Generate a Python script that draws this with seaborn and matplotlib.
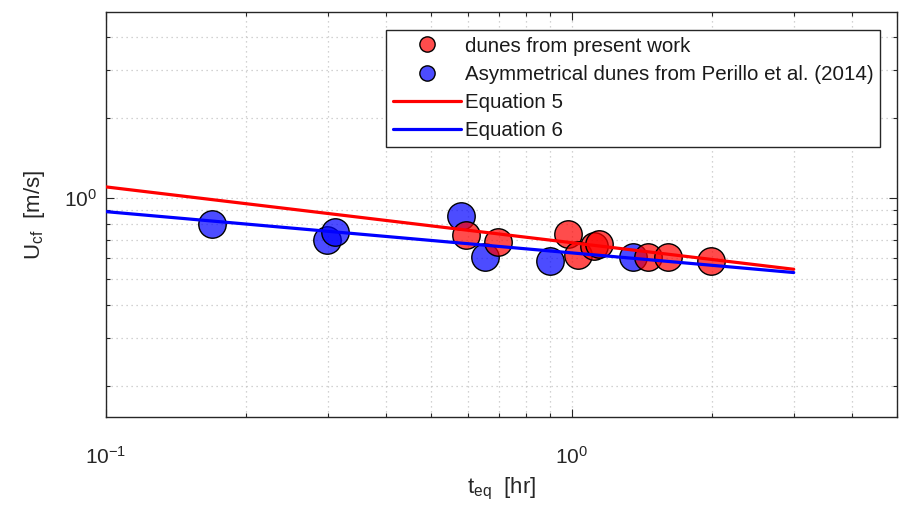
import matplotlib
matplotlib.use("Agg")
import matplotlib.pyplot as plt
import seaborn as sns
import pandas as pd
from matplotlib.lines import Line2D
from matplotlib.ticker import LogLocator, NullFormatter

# Dunes measured in this study: equilibrium time [hr] and critical velocity [m/s]
present_t = [0.594, 0.695, 0.982, 1.032, 1.120, 1.144, 1.458, 1.609, 1.994]
present_u = [0.730, 0.689, 0.734, 0.614, 0.665, 0.674, 0.602, 0.605, 0.584]

# Asymmetrical dunes reported by Perillo et al. (2014)
perillo_t = [0.169, 0.299, 0.310, 0.580, 0.651, 0.901, 1.354]
perillo_u = [0.802, 0.699, 0.751, 0.859, 0.602, 0.584, 0.602]

# Power-law fits (straight on log-log axes), evaluated at the ends of the range
fit_t = [0.1, 3.0]
eq5_u = [1.102, 0.543]
eq6_u = [0.891, 0.528]

legend_labels = ["dunes from present work",
                 "Asymmetrical dunes from Perillo et al. (2014)",
                 "Equation 5", "Equation 6"]

sns.set_theme(style="ticks")
plt.rcParams["font.family"] = ["Liberation Sans", "DejaVu Sans"]
plt.rcParams["mathtext.fontset"] = "custom"
plt.rcParams["mathtext.rm"] = "Liberation Sans"
plt.rcParams["mathtext.it"] = "Liberation Sans:italic"
plt.rcParams["axes.unicode_minus"] = False

INK = "#262626"
RED_FACE = (1.0, 0.0, 0.0, 0.7)
BLUE_FACE = (0.0, 0.0, 1.0, 0.7)

fig = plt.figure(figsize=(8.99, 5.05), dpi=100)
ax = fig.add_axes([0.11791, 0.17485, 0.87987, 0.80079])
ax.set_xscale("log")
ax.set_yscale("log")

df_perillo = pd.DataFrame({"t": perillo_t, "u": perillo_u})
df_present = pd.DataFrame({"t": present_t, "u": present_u})
df_eq5 = pd.DataFrame({"t": fit_t, "u": eq5_u})
df_eq6 = pd.DataFrame({"t": fit_t, "u": eq6_u})

for df, face in ((df_perillo, BLUE_FACE), (df_present, RED_FACE)):
    sns.scatterplot(data=df, x="t", y="u", ax=ax, s=390, zorder=2, legend=False)
    coll = ax.collections[-1]
    coll.set_alpha(None)
    coll.set_facecolor(face)
    coll.set_edgecolor("black")
    coll.set_linewidth(1.0)

sns.lineplot(data=df_eq5, x="t", y="u", ax=ax, color="#ff0000", linewidth=2.3,
             zorder=3, legend=False)
sns.lineplot(data=df_eq6, x="t", y="u", ax=ax, color="#0000ff", linewidth=2.3,
             zorder=3, legend=False)

ax.set_xlim(0.1, 5.0)
ax.set_ylim(0.153, 4.94)

for axis in (ax.xaxis, ax.yaxis):
    axis.set_major_locator(LogLocator(base=10))
    axis.set_minor_locator(LogLocator(base=10, subs=range(2, 10)))
    axis.set_minor_formatter(NullFormatter())

ax.set_axisbelow(True)
ax.grid(True, which="both", linestyle=(0, (1, 3)), color="#c4c4c4", linewidth=0.9)

ax.tick_params(which="both", direction="in", top=True, right=True,
               color=INK, width=0.8, labelcolor=INK, labelsize=15)
ax.tick_params(which="major", length=6)
ax.tick_params(which="minor", length=3)
ax.tick_params(axis="x", which="major", pad=21)
ax.tick_params(axis="y", which="major", pad=6.5)

for sp in ax.spines.values():
    sp.set_color(INK)
    sp.set_linewidth(1.0)

ax.set_xlabel(r"$\mathregular{t_{eq}}$  [hr]", fontsize=16, color=INK)
ax.set_ylabel(r"$\mathregular{U_{cf}}$  [m/s]", fontsize=16, color=INK)
ax.xaxis.set_label_coords(0.5, -0.147)
ax.yaxis.set_label_coords(-0.075, 0.5)

handles = [
    Line2D([], [], linestyle="none", marker="o", markersize=11,
           markerfacecolor=RED_FACE, markeredgecolor="black", markeredgewidth=1.0),
    Line2D([], [], linestyle="none", marker="o", markersize=11,
           markerfacecolor=BLUE_FACE, markeredgecolor="black", markeredgewidth=1.0),
    Line2D([], [], color="#ff0000", linewidth=2.3),
    Line2D([], [], color="#0000ff", linewidth=2.3),
]
leg = ax.legend(handles, legend_labels, loc="upper right",
                bbox_to_anchor=(0.9785, 0.956), borderaxespad=0,
                fontsize=14.8, handlelength=3.3, handletextpad=0.2,
                labelspacing=0.45, borderpad=0.32, frameon=True,
                fancybox=False, framealpha=1, edgecolor=INK)
leg.get_frame().set_linewidth(1.0)
for txt in leg.get_texts():
    txt.set_color("#1a1a1a")

fig.savefig("out.png", dpi=100)
